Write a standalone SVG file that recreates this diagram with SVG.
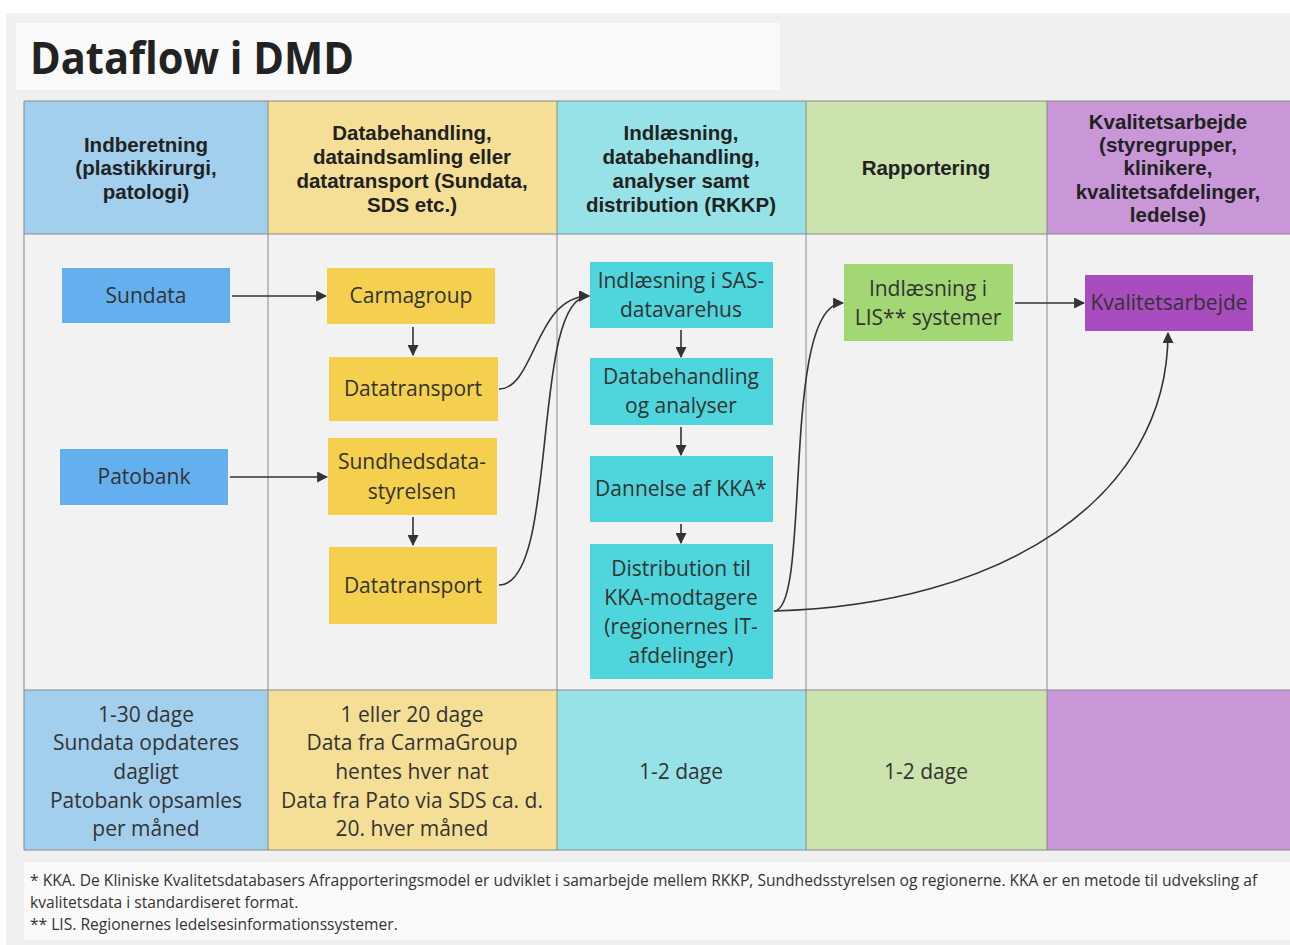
<svg xmlns="http://www.w3.org/2000/svg" width="1290" height="945" viewBox="0 0 1290 945">
<defs>
<marker id="ah" viewBox="0 0 10 10" refX="9" refY="5" markerWidth="11" markerHeight="11" markerUnits="userSpaceOnUse" orient="auto">
<path d="M0,0 L10,5 L0,10 z" fill="#333"/>
</marker>
<style>
.hd{font-family:"Liberation Sans",Arial,sans-serif;font-weight:bold;font-size:20.5px;fill:#222;text-anchor:middle}
.nt{font-family:"Open Sans","Noto Sans",sans-serif;font-size:21px;fill:#333;text-anchor:middle}
.ft{font-family:"Open Sans","Noto Sans",sans-serif;font-size:21px;fill:#333;text-anchor:middle}
.fn{font-family:"Open Sans","Noto Sans",sans-serif;font-size:15.6px;fill:#333}
.cn{fill:none;stroke:#333;stroke-width:1.6;marker-end:url(#ah)}
.sep{stroke:#8a8a8a;stroke-width:1}
</style>
</defs>
<rect x="0" y="0" width="1290" height="945" fill="#ffffff"/>
<rect x="6" y="13" width="1284" height="932" fill="#f0f0f0"/>
<rect x="16" y="23" width="764" height="67" fill="#fafafa"/>
<text x="30" y="74" font-family="Open Sans, Noto Sans, sans-serif" font-weight="bold" font-size="44" fill="#222" textLength="324" lengthAdjust="spacingAndGlyphs">Dataflow i DMD</text>

<g id="table">
<rect x="24" y="101" width="1266" height="749" fill="#f2f2f2"/>
<rect x="24" y="101" width="244" height="133" fill="#a3cfee"/>
<rect x="268" y="101" width="289" height="133" fill="#f5df96"/>
<rect x="557" y="101" width="249" height="133" fill="#97e2e6"/>
<rect x="806" y="101" width="241" height="133" fill="#cbe4ae"/>
<rect x="1047" y="101" width="243" height="133" fill="#c996d8"/>
<rect x="24" y="690" width="244" height="160" fill="#a3cfee"/>
<rect x="268" y="690" width="289" height="160" fill="#f5df96"/>
<rect x="557" y="690" width="249" height="160" fill="#97e2e6"/>
<rect x="806" y="690" width="241" height="160" fill="#cbe4ae"/>
<rect x="1047" y="690" width="243" height="160" fill="#c996d8"/>
<line class="sep" x1="24" y1="101" x2="1290" y2="101"/>
<line class="sep" x1="24" y1="234" x2="1290" y2="234"/>
<line class="sep" x1="24" y1="690" x2="1290" y2="690"/>
<line class="sep" x1="24" y1="850" x2="1290" y2="850"/>
<line class="sep" x1="24" y1="101" x2="24" y2="850"/>
<line class="sep" x1="268" y1="101" x2="268" y2="850"/>
<line class="sep" x1="557" y1="101" x2="557" y2="850"/>
<line class="sep" x1="806" y1="101" x2="806" y2="850"/>
<line class="sep" x1="1047" y1="101" x2="1047" y2="850"/>
</g>

<g id="headers">
<text class="hd" x="146" y="152">Indberetning</text>
<text class="hd" x="146" y="175">(plastikkirurgi,</text>
<text class="hd" x="146" y="199">patologi)</text>
<text class="hd" x="412" y="140">Databehandling,</text>
<text class="hd" x="412" y="164">dataindsamling eller</text>
<text class="hd" x="412" y="188">datatransport (Sundata,</text>
<text class="hd" x="412" y="212">SDS etc.)</text>
<text class="hd" x="681" y="140">Indlæsning,</text>
<text class="hd" x="681" y="164">databehandling,</text>
<text class="hd" x="681" y="188">analyser samt</text>
<text class="hd" x="681" y="212">distribution (RKKP)</text>
<text class="hd" x="926" y="175">Rapportering</text>
<text class="hd" x="1168" y="129">Kvalitetsarbejde</text>
<text class="hd" x="1168" y="152">(styregrupper,</text>
<text class="hd" x="1168" y="175">klinikere,</text>
<text class="hd" x="1168" y="199">kvalitetsafdelinger,</text>
<text class="hd" x="1168" y="222">ledelse)</text>
</g>

<g id="connectors">
<line class="cn" x1="232" y1="296" x2="326" y2="296"/>
<line class="cn" x1="413" y1="327" x2="413" y2="355"/>
<line class="cn" x1="230" y1="477" x2="327" y2="477"/>
<line class="cn" x1="413" y1="517" x2="413" y2="545"/>
<path class="cn" d="M499,389 C535,389 535,296 589,296"/>
<path class="cn" d="M499,585 C560,585 530,296 589,296"/>
<line class="cn" x1="681" y1="330" x2="681" y2="357"/>
<line class="cn" x1="681" y1="427" x2="681" y2="455"/>
<line class="cn" x1="681" y1="524" x2="681" y2="543"/>
<path class="cn" d="M774,611 C812,611 780,303 843,303"/>
<path class="cn" d="M774,611 C1000,605 1168,500 1168,333"/>
<line class="cn" x1="1015" y1="303" x2="1084" y2="303"/>
</g>

<g id="sundata"><rect x="62" y="268" width="168" height="55" fill="#64b0ef"/><text class="nt" x="146" y="303">Sundata</text></g>
<g id="patobank"><rect x="60" y="449" width="168" height="56" fill="#64b0ef"/><text class="nt" x="144" y="484">Patobank</text></g>
<g id="carmagroup"><rect x="327" y="268" width="168" height="56" fill="#f5d04f"/><text class="nt" x="411" y="303">Carmagroup</text></g>
<g id="datatransport1"><rect x="329" y="357" width="169" height="64" fill="#f5d04f"/><text class="nt" x="413" y="396">Datatransport</text></g>
<g id="sundhedsdatastyrelsen"><rect x="328" y="438" width="169" height="77" fill="#f5d04f"/><text class="nt" x="412" y="469">Sundhedsdata-</text><text class="nt" x="412" y="499">styrelsen</text></g>
<g id="datatransport2"><rect x="329" y="547" width="168" height="77" fill="#f5d04f"/><text class="nt" x="413" y="593">Datatransport</text></g>
<g id="sas"><rect x="590" y="262" width="183" height="66" fill="#4fd5dc"/><text class="nt" x="681" y="288">Indlæsning i SAS-</text><text class="nt" x="681" y="317">datavarehus</text></g>
<g id="databehandling"><rect x="590" y="358" width="183" height="67" fill="#4fd5dc"/><text class="nt" x="681" y="384">Databehandling</text><text class="nt" x="681" y="413">og analyser</text></g>
<g id="kka"><rect x="590" y="456" width="183" height="66" fill="#4fd5dc"/><text class="nt" x="681" y="496">Dannelse af KKA*</text></g>
<g id="distribution"><rect x="590" y="544" width="183" height="135" fill="#4fd5dc"/><text class="nt" x="681" y="576">Distribution til</text><text class="nt" x="681" y="605">KKA-modtagere</text><text class="nt" x="681" y="634">(regionernes IT-</text><text class="nt" x="681" y="663">afdelinger)</text></g>
<g id="lis"><rect x="844" y="264" width="169" height="77" fill="#a3d774"/><text class="nt" x="928" y="296">Indlæsning i</text><text class="nt" x="928" y="325">LIS** systemer</text></g>
<g id="kvalitetsarbejde"><rect x="1085" y="275" width="168" height="56" fill="#a94cc0"/><text class="nt" x="1169" y="310">Kvalitetsarbejde</text></g>

<g id="durations">
<text class="ft" x="146" y="722">1-30 dage</text>
<text class="ft" x="146" y="750">Sundata opdateres</text>
<text class="ft" x="146" y="779">dagligt</text>
<text class="ft" x="146" y="808">Patobank opsamles</text>
<text class="ft" x="146" y="836">per måned</text>
<text class="ft" x="412" y="722">1 eller 20 dage</text>
<text class="ft" x="412" y="750">Data fra CarmaGroup</text>
<text class="ft" x="412" y="779">hentes hver nat</text>
<text class="ft" x="412" y="808">Data fra Pato via SDS ca. d.</text>
<text class="ft" x="412" y="836">20. hver måned</text>
<text class="ft" x="681" y="779">1-2 dage</text>
<text class="ft" x="926" y="779">1-2 dage</text>
</g>

<g id="footnote">
<rect x="24" y="862" width="1266" height="78" fill="#fafafa"/>
<text class="fn" x="30" y="886">* KKA. De Kliniske Kvalitetsdatabasers Afrapporteringsmodel er udviklet i samarbejde mellem RKKP, Sundhedsstyrelsen og regionerne. KKA er en metode til udveksling af</text>
<text class="fn" x="30" y="908">kvalitetsdata i standardiseret format.</text>
<text class="fn" x="30" y="930">** LIS. Regionernes ledelsesinformationssystemer.</text>
</g>
</svg>
